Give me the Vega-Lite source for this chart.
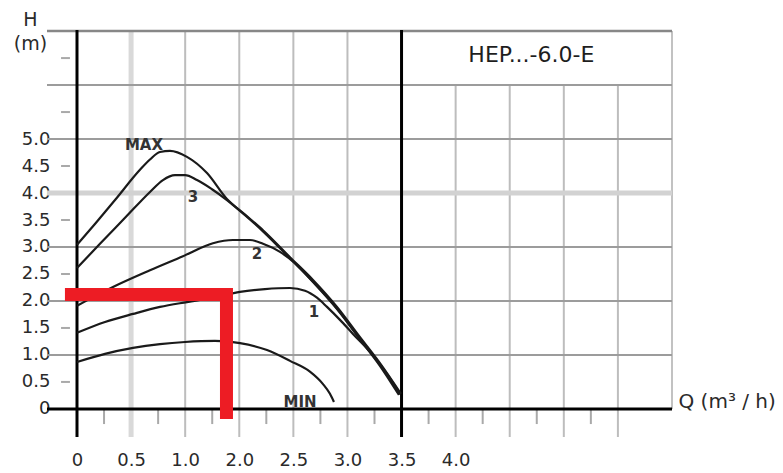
{
  "$schema": "https://vega.github.io/schema/vega-lite/v6.json",
  "width": 625,
  "height": 407,
  "autosize": "none",
  "padding": {"left": 47, "top": 30, "right": 111, "bottom": 36},
  "config": {"view": {"stroke": null}, "font": "DejaVu Sans", "axis": {"grid": false, "ticks": false, "domain": false}},
  "datasets": {
    "hgrid": [{"H": 1}, {"H": 2}, {"H": 3}, {"H": 5}, {"H": 6}],
    "hgridLight": [{"H": 4}],
    "topBorder": [{"H": 7}],
    "vgridFull": [{"Q": 1.16667}, {"Q": 1.75}, {"Q": 2.33333}, {"Q": 2.91667}],
    "vgridLight": [{"Q": 0.58333}],
    "vgridLow": [{"Q": 4.08333}, {"Q": 4.66667}, {"Q": 5.25}, {"Q": 5.83333}],
    "border": [{"Q": 6.41667}],
    "yticks": [{"H": 0.5}, {"H": 1.5}, {"H": 2.5}, {"H": 3.5}, {"H": 4.5}, {"H": 5.5}, {"H": 6.5}],
    "xticks": [{"Q": 0.29167}, {"Q": 0.875}, {"Q": 1.45833}, {"Q": 2.04167}, {"Q": 2.625}, {"Q": 3.20833}, {"Q": 3.79167}, {"Q": 4.375}, {"Q": 4.95833}, {"Q": 5.54167}],
    "vaxes": [{"Q": 0}, {"Q": 3.5}],
    "haxis": [{"H": 0}],
    "curves": [
      {"curve": "MAX", "Q": 0, "H": 3.04}, {"curve": "MAX", "Q": 0.205, "H": 3.45}, {"curve": "MAX", "Q": 0.41, "H": 3.87}, {"curve": "MAX", "Q": 0.679, "H": 4.43}, {"curve": "MAX", "Q": 0.787, "H": 4.62}, {"curve": "MAX", "Q": 0.895, "H": 4.76}, {"curve": "MAX", "Q": 1.003, "H": 4.78}, {"curve": "MAX", "Q": 1.186, "H": 4.67}, {"curve": "MAX", "Q": 1.402, "H": 4.37}, {"curve": "MAX", "Q": 1.617, "H": 3.89}, {"curve": "MAX", "Q": 1.812, "H": 3.6}, {"curve": "MAX", "Q": 2.006, "H": 3.31}, {"curve": "MAX", "Q": 2.297, "H": 2.81}, {"curve": "MAX", "Q": 2.545, "H": 2.39}, {"curve": "MAX", "Q": 2.804, "H": 1.89}, {"curve": "MAX", "Q": 3.052, "H": 1.33}, {"curve": "MAX", "Q": 3.267, "H": 0.85}, {"curve": "MAX", "Q": 3.494, "H": 0.28},
      {"curve": "3", "Q": 0, "H": 2.61}, {"curve": "3", "Q": 0.248, "H": 3.06}, {"curve": "3", "Q": 0.518, "H": 3.54}, {"curve": "3", "Q": 0.787, "H": 4.02}, {"curve": "3", "Q": 0.927, "H": 4.24}, {"curve": "3", "Q": 1.057, "H": 4.33}, {"curve": "3", "Q": 1.165, "H": 4.33}, {"curve": "3", "Q": 1.294, "H": 4.24}, {"curve": "3", "Q": 1.456, "H": 4.07}, {"curve": "3", "Q": 1.617, "H": 3.87}, {"curve": "3", "Q": 1.812, "H": 3.59}, {"curve": "3", "Q": 2.006, "H": 3.29}, {"curve": "3", "Q": 2.297, "H": 2.79}, {"curve": "3", "Q": 2.545, "H": 2.36}, {"curve": "3", "Q": 2.804, "H": 1.86}, {"curve": "3", "Q": 3.052, "H": 1.3}, {"curve": "3", "Q": 3.267, "H": 0.82}, {"curve": "3", "Q": 3.483, "H": 0.27},
      {"curve": "2", "Q": 0, "H": 1.91}, {"curve": "2", "Q": 0.194, "H": 2.09}, {"curve": "2", "Q": 0.388, "H": 2.26}, {"curve": "2", "Q": 0.787, "H": 2.57}, {"curve": "2", "Q": 1.143, "H": 2.83}, {"curve": "2", "Q": 1.466, "H": 3.07}, {"curve": "2", "Q": 1.682, "H": 3.13}, {"curve": "2", "Q": 1.865, "H": 3.13}, {"curve": "2", "Q": 2.006, "H": 3.06}, {"curve": "2", "Q": 2.189, "H": 2.91}, {"curve": "2", "Q": 2.35, "H": 2.7}, {"curve": "2", "Q": 2.545, "H": 2.35}, {"curve": "2", "Q": 2.804, "H": 1.85}, {"curve": "2", "Q": 3.052, "H": 1.29}, {"curve": "2", "Q": 3.267, "H": 0.8}, {"curve": "2", "Q": 3.472, "H": 0.26},
      {"curve": "1", "Q": 0, "H": 1.41}, {"curve": "1", "Q": 0.302, "H": 1.61}, {"curve": "1", "Q": 0.604, "H": 1.76}, {"curve": "1", "Q": 0.895, "H": 1.89}, {"curve": "1", "Q": 1.186, "H": 1.98}, {"curve": "1", "Q": 1.466, "H": 2.06}, {"curve": "1", "Q": 1.758, "H": 2.17}, {"curve": "1", "Q": 2.027, "H": 2.22}, {"curve": "1", "Q": 2.297, "H": 2.24}, {"curve": "1", "Q": 2.459, "H": 2.19}, {"curve": "1", "Q": 2.588, "H": 2.06}, {"curve": "1", "Q": 2.696, "H": 1.89}, {"curve": "1", "Q": 2.836, "H": 1.65}, {"curve": "1", "Q": 2.976, "H": 1.39}, {"curve": "1", "Q": 3.159, "H": 1.06}, {"curve": "1", "Q": 3.343, "H": 0.65}, {"curve": "1", "Q": 3.472, "H": 0.31},
      {"curve": "MIN", "Q": 0, "H": 0.87}, {"curve": "MIN", "Q": 0.302, "H": 1.02}, {"curve": "MIN", "Q": 0.604, "H": 1.13}, {"curve": "MIN", "Q": 0.895, "H": 1.2}, {"curve": "MIN", "Q": 1.165, "H": 1.24}, {"curve": "MIN", "Q": 1.488, "H": 1.26}, {"curve": "MIN", "Q": 1.758, "H": 1.22}, {"curve": "MIN", "Q": 2.049, "H": 1.09}, {"curve": "MIN", "Q": 2.297, "H": 0.89}, {"curve": "MIN", "Q": 2.512, "H": 0.69}, {"curve": "MIN", "Q": 2.653, "H": 0.46}, {"curve": "MIN", "Q": 2.728, "H": 0.28}, {"curve": "MIN", "Q": 2.771, "H": 0.13}
    ],
    "duty": [{"i": 0, "Q": -0.13, "H": 2.12}, {"i": 1, "Q": 1.612, "H": 2.12}, {"i": 2, "Q": 1.612, "H": -0.185}],
    "labels": [
      {"text": "MAX", "Q": 0.722, "H": 4.89},
      {"text": "3", "Q": 1.251, "H": 3.93},
      {"text": "2", "Q": 1.941, "H": 2.87},
      {"text": "1", "Q": 2.556, "H": 1.8},
      {"text": "MIN", "Q": 2.405, "H": 0.13}
    ],
    "title": [{"text": "HEP...-6.0-E", "Q": 4.9, "H": 6.556}]
  },
  "layer": [
    {
      "data": {"name": "vgridLight"},
      "mark": {"type": "rule", "color": "#d9d9d9", "strokeWidth": 5},
      "encoding": {"x": {"field": "Q", "type": "quantitative", "scale": {"domain": [-0.3235, 6.4167], "nice": false, "zero": false}}}
    },
    {
      "data": {"name": "vgridFull"},
      "mark": {"type": "rule", "color": "#bdbdbd", "strokeWidth": 2},
      "encoding": {"x": {"field": "Q", "type": "quantitative"}}
    },
    {
      "data": {"name": "vgridLow"},
      "mark": {"type": "rule", "color": "#bdbdbd", "strokeWidth": 2},
      "encoding": {
        "x": {"field": "Q", "type": "quantitative"},
        "y": {"datum": -0.52, "type": "quantitative", "scale": {"domain": [-0.52, 7.02], "nice": false, "zero": false}},
        "y2": {"datum": 6}
      }
    },
    {
      "data": {"name": "border"},
      "mark": {"type": "rule", "color": "#c2c2c2", "strokeWidth": 2},
      "encoding": {
        "x": {"field": "Q", "type": "quantitative"},
        "y": {"datum": 0, "type": "quantitative"},
        "y2": {"datum": 7}
      }
    },
    {
      "data": {"name": "hgridLight"},
      "mark": {"type": "rule", "color": "#d2d2d2", "strokeWidth": 5},
      "encoding": {"y": {"field": "H", "type": "quantitative"}}
    },
    {
      "data": {"name": "hgrid"},
      "mark": {"type": "rule", "color": "#9c9c9c", "strokeWidth": 2},
      "encoding": {"y": {"field": "H", "type": "quantitative"}}
    },
    {
      "data": {"name": "topBorder"},
      "mark": {"type": "rule", "color": "#878787", "strokeWidth": 2.5},
      "encoding": {"y": {"field": "H", "type": "quantitative"}}
    },
    {
      "data": {"name": "yticks"},
      "mark": {"type": "rule", "color": "#a9a9a9", "strokeWidth": 2},
      "encoding": {
        "y": {"field": "H", "type": "quantitative"},
        "x": {"datum": -0.172, "type": "quantitative"},
        "x2": {"datum": -0.076}
      }
    },
    {
      "data": {"name": "xticks"},
      "mark": {"type": "rule", "color": "#a9a9a9", "strokeWidth": 2},
      "encoding": {
        "x": {"field": "Q", "type": "quantitative"},
        "y": {"datum": 0, "type": "quantitative"},
        "y2": {"datum": -0.28}
      }
    },
    {
      "data": {"name": "haxis"},
      "mark": {"type": "rule", "color": "#000000", "strokeWidth": 3},
      "encoding": {"y": {"field": "H", "type": "quantitative"}}
    },
    {
      "data": {"name": "vaxes"},
      "mark": {"type": "rule", "color": "#000000", "strokeWidth": 3},
      "encoding": {"x": {"field": "Q", "type": "quantitative"}}
    },
    {
      "data": {"name": "curves"},
      "mark": {"type": "line", "color": "#1a1a1a", "strokeWidth": 2.2, "interpolate": "monotone"},
      "encoding": {
        "x": {
          "field": "Q", "type": "quantitative",
          "scale": {"domain": [-0.3235, 6.4167], "nice": false, "zero": false},
          "axis": {
            "values": [0, 0.58333, 1.16667, 1.75, 2.33333, 2.91667, 3.5, 4.08333],
            "labelExpr": "['0','0.5','1.0','2.0','2.5','3.0','3.5','4.0'][round(datum.value*12/7)]",
            "domain": false, "ticks": false, "tickSize": 0, "grid": false,
            "labelPadding": 14, "labelFontSize": 18, "labelColor": "#2a2a2a", "labelFont": "DejaVu Sans",
            "labelFlush": false, "labelOverlap": false,
            "title": "Q (m³ / h)", "titleX": 631, "titleY": -30, "titleAlign": "left", "titleBaseline": "alphabetic",
            "titleFontSize": 20, "titleFontWeight": "normal", "titleColor": "#2a2a2a", "titleFont": "DejaVu Sans"
          }
        },
        "y": {
          "field": "H", "type": "quantitative",
          "scale": {"domain": [-0.52, 7.02], "nice": false, "zero": false},
          "axis": {
            "values": [0, 0.5, 1, 1.5, 2, 2.5, 3, 3.5, 4, 4.5, 5],
            "labelExpr": "datum.value==0?'0':format(datum.value,'.1f')",
            "domain": false, "ticks": false, "tickSize": 0, "grid": false,
            "labelPadding": -3, "labelFontSize": 18, "labelColor": "#2a2a2a", "labelFont": "DejaVu Sans",
            "labelOverlap": false, "labelFlush": false,
            "title": ["H", "(m)"], "titleAngle": 0, "titleX": -17, "titleY": -5, "titleAlign": "center",
            "titleBaseline": "alphabetic", "titleLineHeight": 24, "titleFontSize": 19, "titleFontWeight": "normal",
            "titleColor": "#2a2a2a", "titleFont": "DejaVu Sans"
          }
        },
        "detail": {"field": "curve"}
      }
    },
    {
      "data": {"name": "duty"},
      "mark": {"type": "line", "color": "#ed1c24", "strokeWidth": 13, "strokeJoin": "miter", "strokeCap": "butt"},
      "encoding": {
        "x": {"field": "Q", "type": "quantitative"},
        "y": {"field": "H", "type": "quantitative"},
        "order": {"field": "i"}
      }
    },
    {
      "data": {"name": "labels"},
      "mark": {"type": "text", "fontSize": 15, "color": "#333333", "font": "DejaVu Sans", "fontWeight": "bold"},
      "encoding": {
        "x": {"field": "Q", "type": "quantitative"},
        "y": {"field": "H", "type": "quantitative"},
        "text": {"field": "text"}
      }
    },
    {
      "data": {"name": "title"},
      "mark": {"type": "text", "fontSize": 22, "color": "#1e1e1e", "font": "DejaVu Sans"},
      "encoding": {
        "x": {"field": "Q", "type": "quantitative"},
        "y": {"field": "H", "type": "quantitative"},
        "text": {"field": "text"}
      }
    }
  ]
}
